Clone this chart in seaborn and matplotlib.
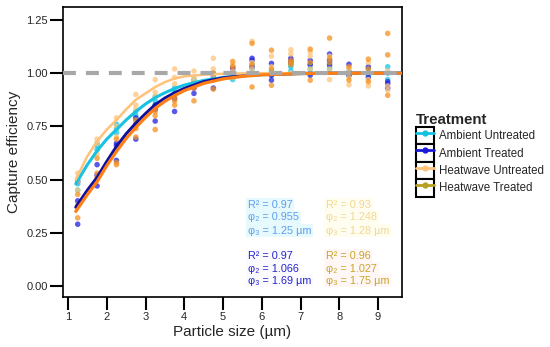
import pandas as pd
import matplotlib.pyplot as plt
import seaborn as sns
from matplotlib.lines import Line2D
from matplotlib.patches import Rectangle

# Treatment groups and colours
groups = ['Ambient Untreated', 'Ambient Treated', 'Heatwave Untreated', 'Heatwave Treated']
point_colors = {'Ambient Untreated': '#12C6E6', 'Ambient Treated': '#2222E0',
                'Heatwave Untreated': '#FDC57A', 'Heatwave Treated': '#F5901E'}
line_colors = {'Ambient Untreated': '#16C2E2', 'Ambient Treated': '#10109E',
               'Heatwave Untreated': '#FFC27A', 'Heatwave Treated': '#FF7E16'}
legend_colors = ['#16C2E2', '#1A1AD8', '#FFC27A', '#B8A020']

# Particle size bins (µm)
sizes = [1.25, 1.75, 2.25, 2.75, 3.25, 3.75, 4.25, 4.75, 5.25,
         5.75, 6.25, 6.75, 7.25, 7.75, 8.25, 8.75, 9.25]

# Observed capture efficiency, three replicates per size bin
au_obs = [[0.50, 0.48, 0.45], [0.67, 0.66, 0.64], [0.76, 0.74, 0.72], [0.82, 0.80, 0.78],
          [0.89, 0.87, 0.85], [0.93, 0.91, 0.90], [0.96, 0.94, 0.97], [1.00, 0.98, 0.97],
          [0.97, 1.00, 0.99], [1.02, 1.04, 1.00], [1.01, 1.00, 0.99], [1.03, 1.04, 1.01],
          [1.02, 1.00, 1.04], [1.03, 1.02, 1.05], [1.00, 1.01, 0.99], [1.02, 1.00, 0.99],
          [1.03, 0.97, 1.00]]
at_obs = [[0.49, 0.40, 0.29], [0.57, 0.47, 0.52], [0.67, 0.59, 0.66], [0.79, 0.69, 0.76],
          [0.85, 0.775, 0.83], [0.90, 0.82, 0.88], [0.905, 0.95, 0.93], [0.93, 0.99, 0.97],
          [1.02, 0.99, 1.03], [1.07, 1.06, 1.03], [1.046, 0.967, 0.99], [1.07, 1.06, 1.05],
          [1.04, 0.99, 1.06], [1.09, 1.06, 1.04], [1.042, 0.99, 1.00], [0.98, 1.03, 1.00],
          [0.95, 0.93, 0.96]]
hu_obs = [[0.53, 0.49, 0.45], [0.69, 0.67, 0.62], [0.79, 0.75, 0.70], [0.90, 0.85, 0.83],
          [0.97, 0.89, 0.91], [1.02, 0.98, 0.95], [1.01, 0.98, 0.96], [1.07, 1.02, 0.99],
          [1.04, 1.01, 0.98], [1.15, 1.05, 1.02], [1.08, 1.03, 1.00], [1.11, 1.09, 1.00],
          [1.10, 1.08, 1.02], [1.08, 0.97, 1.02], [1.02, 0.945, 0.98], [1.05, 0.94, 0.97],
          [1.01, 0.92, 0.94]]
ht_obs = [[0.43, 0.38, 0.32], [0.60, 0.53, 0.51], [0.69, 0.58, 0.57], [0.78, 0.70, 0.74],
          [0.82, 0.735, 0.80], [0.89, 0.85, 0.87], [0.87, 0.93, 0.95], [0.925, 0.97, 1.00],
          [1.055, 1.03, 0.99], [1.14, 1.04, 0.935], [1.108, 0.943, 1.02], [1.05, 1.04, 1.06],
          [1.113, 0.967, 1.05], [1.165, 1.07, 1.05], [1.03, 0.967, 1.00], [1.066, 0.96, 1.02],
          [1.187, 1.086, 0.896]]

# Fitted curves
fit_x = [1.2, 1.5, 1.75, 2.0, 2.25, 2.5, 2.75, 3.0, 3.25, 3.5, 3.75, 4.0,
         4.5, 5.0, 5.5, 6.0, 7.0, 8.0, 9.0, 9.6]
au_fit = [0.48, 0.57, 0.635, 0.69, 0.735, 0.78, 0.82, 0.855, 0.885, 0.908, 0.928, 0.944,
          0.966, 0.98, 0.988, 0.993, 0.998, 1.0, 1.0, 1.0]
at_fit = [0.37, 0.45, 0.51, 0.585, 0.655, 0.715, 0.765, 0.81, 0.852, 0.883, 0.908, 0.928,
          0.96, 0.978, 0.988, 0.994, 0.999, 1.0, 1.0, 1.0]
hu_fit = [0.50, 0.61, 0.68, 0.735, 0.78, 0.83, 0.875, 0.905, 0.935, 0.958, 0.975, 0.985,
          0.993, 0.997, 0.999, 1.0, 1.0, 1.0, 1.0, 1.0]
ht_fit = [0.35, 0.43, 0.49, 0.565, 0.632, 0.693, 0.745, 0.792, 0.835, 0.868, 0.895, 0.918,
          0.952, 0.973, 0.985, 0.992, 0.998, 1.0, 1.0, 1.0]

# Fit statistics
r2 = ['0.97', '0.97', '0.93', '0.96']
phi2 = ['0.955', '1.066', '1.248', '1.027']
phi3 = ['1.25', '1.69', '1.28', '1.75']

# Build long tables
rows = []
for g, obs in zip(groups, [au_obs, at_obs, hu_obs, ht_obs]):
    for s, reps in zip(sizes, obs):
        for v in reps:
            rows.append((g, s, v))
points = pd.DataFrame(rows, columns=['Treatment', 'size', 'eff'])

rows = []
for g, fit in zip(groups, [au_fit, at_fit, hu_fit, ht_fit]):
    for x, y in zip(fit_x, fit):
        rows.append((g, x, y))
curves = pd.DataFrame(rows, columns=['Treatment', 'size', 'eff'])

sns.set_style('ticks')
plt.rcParams['font.family'] = ['Liberation Sans', 'DejaVu Sans']

fig = plt.figure(figsize=(5.5, 3.47), dpi=100)
ax = fig.add_axes([0.1145, 0.1441, 0.6165, 0.8357])

sns.scatterplot(data=points, x='size', y='eff', hue='Treatment', hue_order=groups,
                palette=point_colors, s=16, alpha=0.75, linewidth=0, legend=False, ax=ax, zorder=2)
widths = {'Ambient Untreated': 2.2, 'Ambient Treated': 2.2,
          'Heatwave Untreated': 1.8, 'Heatwave Treated': 2.3}
for g in groups:
    sns.lineplot(data=curves[curves['Treatment'] == g], x='size', y='eff',
                 color=line_colors[g], linewidth=widths[g], ax=ax, zorder=3)
ax.axhline(1.0, color='#A8A8A8', linewidth=3, linestyle=(0, (3.1, 2.4)), zorder=4)

# Fit statistic labels
text_colors = ['#5E9EF0', '#2424CC', '#F0D890', '#C9A526']
text_bg = ['#E6F9FC', '#FBFBFF', '#FFFDF0', '#FFF6F6']
text_x = [5.645, 5.645, 7.66, 7.66]
text_y = [[0.382, 0.322, 0.259], [0.142, 0.081, 0.024],
          [0.382, 0.322, 0.259], [0.142, 0.081, 0.024]]
for i in range(4):
    lines = ['R² = ' + r2[i], 'φ₂ = ' + phi2[i], 'φ₃ = ' + phi3[i] + ' µm']
    for ln, yy in zip(lines, text_y[i]):
        ax.text(text_x[i], yy, ln, color=text_colors[i], fontsize=7.8, va='center', ha='left',
                zorder=5, bbox=dict(facecolor=text_bg[i], edgecolor='none', pad=1.2))

ax.set_xlim(0.87, 9.62)
ax.set_ylim(-0.052, 1.311)
ax.set_xticks(range(1, 10))
ax.set_yticks([0, 0.25, 0.5, 0.75, 1.0, 1.25])
ax.set_yticklabels(['0.00', '0.25', '0.50', '0.75', '1.00', '1.25'])
ax.tick_params(axis='both', labelsize=8, length=9.5, width=1.5, color='black', pad=1.5)
ax.set_xlabel('Particle size (µm)', fontsize=11, labelpad=2)
ax.set_ylabel('Capture efficiency', fontsize=11, labelpad=4)
for sp in ax.spines.values():
    sp.set_visible(True)
    sp.set_color('black')
    sp.set_linewidth(1.2)

# Legend with framed keys
handles = []
for c in legend_colors:
    box = Rectangle((0, 0), 1, 1, facecolor='white', edgecolor='black', linewidth=1.5)
    ln = Line2D([], [], color=c, linewidth=2, marker='o', markersize=3.5)
    handles.append((box, ln))
leg = fig.legend(handles, groups, title='Treatment', loc='upper left',
                 bbox_to_anchor=(0.757, 0.675), frameon=False, fontsize=8.3,
                 title_fontproperties={'weight': 'bold', 'size': 10.8},
                 handlelength=1.5, handleheight=1.95, labelspacing=0.0,
                 handletextpad=0.45, borderpad=0, borderaxespad=0, alignment='left')

plt.savefig('out.png', dpi=100)
